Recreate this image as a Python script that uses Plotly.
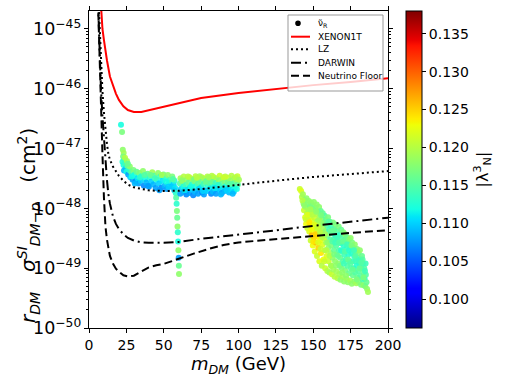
import plotly.graph_objects as go

# ---------------- exclusion / projection curves ----------------
xenon_m = [8, 9, 10, 11, 12, 14, 16, 18, 20, 23, 26, 30, 35, 40, 50, 60, 75, 100, 125, 150, 175, 200]
xenon_s = [2.5e-45, 1.0e-45, 6.5e-46, 4.3e-46, 3.0e-46, 1.6e-46, 1.1e-46, 8.3e-47, 6.5e-47, 5.1e-47,
           4.4e-47, 4.1e-47, 4.1e-47, 4.4e-47, 5.0e-47, 5.8e-47, 7.0e-47, 8.5e-47, 1.0e-46, 1.15e-46,
           1.3e-46, 1.5e-46]

lz_m = [6, 7, 8, 9, 10, 11, 12, 13, 14, 16, 18, 20, 23, 26, 30, 35, 40, 50, 60, 75, 100, 125, 150, 175, 200]
lz_s = [5e-45, 1e-45, 2.5e-46, 9e-47, 4e-47, 2e-47, 1.2e-47, 8e-48, 6.5e-48, 5e-48, 4.2e-48, 3.5e-48,
        2.9e-48, 2.5e-48, 2.25e-48, 2.1e-48, 2.0e-48, 1.95e-48, 1.97e-48, 2.1e-48, 2.5e-48, 2.9e-48,
        3.35e-48, 3.8e-48, 4.2e-48]

darwin_m = [6, 7, 8, 9, 10, 11, 12, 13, 14, 16, 18, 20, 23, 26, 30, 35, 40, 50, 60, 75, 100, 125, 150, 175, 200]
darwin_s = [3e-45, 4e-46, 1e-46, 3.5e-47, 1.4e-47, 6e-48, 3e-48, 1.7e-48, 1.2e-48, 7.4e-49, 5.5e-49,
            4.5e-49, 3.7e-49, 3.2e-49, 2.9e-49, 2.7e-49, 2.65e-49, 2.65e-49, 2.75e-49, 3.1e-49, 3.7e-49,
            4.3e-49, 5.1e-49, 6.0e-49, 7.0e-49]

nu_m = [6, 7, 8, 9, 10, 11, 12, 14, 16, 18, 20, 23, 26, 30, 35, 40, 45, 50, 55, 60, 70, 80, 90, 100,
        125, 150, 175, 200]
nu_s = [3e-45, 3e-46, 5e-47, 8e-48, 1.5e-48, 5e-49, 3e-49, 1.6e-49, 1.2e-49, 9.8e-50, 8.8e-50, 7.6e-50,
        7.3e-50, 7.5e-50, 8.8e-50, 1.03e-49, 1.12e-49, 1.18e-49, 1.3e-49, 1.45e-49, 1.75e-49, 2.1e-49,
        2.45e-49, 2.7e-49, 3.05e-49, 3.5e-49, 3.9e-49, 4.3e-49]

# ---------------- scan points: mass (GeV), r*sigma (units of 1e-48 cm^2), |lambda_N^3| ----------------
pts = [
    # low-mass band
    (21.4, 25, .112), (22.1, 19, .117), (22.6, 9.6, .118), (23.2, 8.4, .119), (22.8, 7.4, .117),
    (23.6, 6.6, .115), (22.4, 6.0, .113), (23.1, 5.3, .112), (24.2, 5.6, .114), (24.6, 4.7, .111),
    (23.4, 4.3, .109), (25.1, 4.1, .112), (25.7, 5.1, .116), (26.2, 3.7, .108), (26.8, 4.4, .113),
    (27.3, 5.0, .118), (27.6, 3.3, .110), (28.3, 4.0, .115), (29.2, 3.0, .108), (29.7, 4.4, .117),
    (30.3, 3.6, .112), (31.1, 2.8, .107), (31.8, 4.1, .116), (32.4, 3.2, .111), (33.2, 2.6, .108),
    (33.7, 3.9, .117), (34.6, 2.9, .110), (35.3, 3.5, .114), (36.1, 4.2, .118), (36.7, 2.4, .107),
    (37.8, 3.1, .112), (38.3, 2.7, .109), (39.2, 3.8, .116), (40.1, 2.3, .108), (40.7, 3.3, .113),
    (41.6, 2.8, .110), (42.3, 4.0, .119), (43.2, 2.5, .109), (43.8, 3.5, .115), (44.6, 2.2, .108),
    (45.3, 3.0, .112), (46.2, 3.9, .118), (46.8, 2.6, .110), (47.6, 3.4, .114), (48.3, 2.2, .107),
    (49.1, 2.9, .111), (49.8, 3.7, .117), (50.6, 2.4, .109), (51.3, 3.2, .113), (52.1, 2.1, .108),
    (52.7, 3.6, .118), (53.6, 2.7, .111), (54.2, 3.0, .114), (55.1, 2.3, .109), (55.7, 3.4, .117),
    (56.6, 2.5, .110), (57.2, 2.9, .113), (57.6, 2.2, .111),
    (24.1, 7.0, .120), (25.4, 6.2, .119), (26.0, 5.6, .116), (28.6, 3.4, .112), (30.6, 2.6, .109),
    (34.1, 3.3, .113), (37.2, 3.6, .115), (39.6, 2.4, .108), (41.2, 3.6, .116), (44.1, 3.2, .114),
    (47.1, 2.0, .108), (48.7, 3.6, .119), (51.6, 2.8, .112), (53.1, 2.3, .110), (56.2, 3.1, .115),
    (57.0, 2.0, .110),
    # resonance spike
    (58.0, 1.8, .113), (58.3, 1.5, .115), (58.6, 1.2, .113), (58.8, 0.9, .117), (59.0, 0.7, .116),
    (59.2, 0.5, .118), (59.4, 0.4, .113), (59.6, 0.28, .112), (59.8, 0.2, .118), (60.0, 0.15, .108),
    (60.1, 0.11, .116), (60.2, 0.08, .118),
    # band above the resonance
    (61.2, 3.2, .119), (60.8, 2.6, .115), (61.5, 2.1, .110), (61.1, 1.75, .108),
    (63.4, 3.4, .120), (62.7, 2.75, .117), (63.1, 2.3, .112), (63.6, 1.9, .109),
    (65.3, 3.0, .118), (64.8, 2.45, .114), (65.6, 2.0, .109), (65.1, 1.7, .107),
    (67.2, 3.3, .121), (66.7, 2.7, .116), (67.5, 2.2, .111), (66.9, 1.8, .108),
    (69.4, 3.1, .119), (68.8, 2.5, .113), (69.1, 2.05, .110), (69.7, 1.65, .107),
    (71.3, 3.45, .120), (70.6, 2.85, .117), (71.6, 2.35, .112), (70.9, 1.9, .109),
    (73.2, 3.0, .118), (72.7, 2.6, .115), (73.5, 2.1, .110), (72.9, 1.75, .108),
    (75.4, 3.3, .121), (74.8, 2.75, .116), (75.1, 2.25, .111), (75.7, 1.85, .107),
    (77.3, 3.15, .119), (76.6, 2.55, .114), (77.6, 2.0, .109), (76.9, 1.7, .108),
    (79.2, 3.4, .120), (78.7, 2.9, .117), (79.5, 2.4, .113), (78.9, 1.95, .110),
    (81.4, 3.05, .118), (80.8, 2.6, .115), (81.1, 2.15, .111), (81.7, 1.75, .107),
    (83.3, 3.35, .121), (82.6, 2.8, .116), (83.6, 2.3, .112), (82.9, 1.9, .109),
    (85.2, 3.2, .119), (84.7, 2.65, .114), (85.5, 2.1, .110), (84.9, 1.75, .108),
    (87.4, 3.5, .121), (86.8, 2.95, .118), (87.1, 2.4, .113), (87.7, 2.0, .110),
    (89.3, 3.1, .119), (88.6, 2.55, .115), (89.6, 2.15, .111), (88.9, 1.8, .108),
    (91.2, 3.4, .120), (90.7, 2.85, .117), (91.5, 2.35, .112), (90.9, 1.95, .109),
    (93.4, 3.25, .121), (92.8, 2.7, .116), (93.1, 2.2, .111), (93.7, 1.85, .109),
    (95.3, 3.5, .120), (94.6, 2.9, .118), (95.6, 2.45, .114), (94.9, 2.05, .111),
    (97.2, 3.15, .119), (96.7, 2.6, .115), (97.5, 2.2, .112), (96.9, 1.9, .110),
    (99.3, 3.45, .121), (98.8, 2.95, .118), (99.6, 2.5, .115), (98.9, 2.1, .112),
    (62.1, 2.95, .118), (66.2, 3.4, .120), (70.1, 3.0, .117), (74.1, 3.45, .119), (78.1, 2.8, .116),
    (82.2, 3.5, .120), (86.1, 2.45, .113), (90.1, 3.3, .121), (94.1, 2.55, .115), (98.1, 3.3, .120),
    (100.3, 3.0, .119), (64.1, 2.0, .111), (76.2, 1.95, .110), (88.2, 1.7, .109), (96.1, 1.75, .109),
    (68.1, 2.3, .112), (72.1, 3.25, .120), (80.1, 3.3, .119), (84.1, 2.2, .111), (92.1, 2.0, .110),
    # high-mass blob
    (141.0, 2.1, .121), (141.9, 1.95, .122), (142.4, 1.55, .120), (143.1, 1.72, .119), (143.5, 1.21, .118),
    (143.8, 0.93, .121), (144.2, 1.38, .117), (144.6, 0.71, .122), (144.9, 1.05, .119), (145.2, 0.55, .123),
    (145.5, 1.48, .118), (145.8, 0.83, .120), (146.0, 0.47, .121), (146.3, 1.17, .117), (146.6, 0.64, .124),
    (146.9, 0.93, .119), (147.1, 1.33, .118), (147.3, 0.41, .122), (147.6, 0.74, .121), (147.9, 1.08, .117),
    (148.1, 0.53, .125), (148.3, 0.29, .121), (148.5, 1.25, .118), (148.8, 0.86, .120), (149.0, 0.36, .126),
    (149.2, 0.62, .122), (149.5, 1.12, .117), (149.7, 0.24, .123), (149.9, 0.47, .124), (150.2, 0.95, .119),
    (150.4, 1.28, .118), (150.6, 0.33, .125), (150.8, 0.69, .121), (151.0, 0.19, .122),
    (151.3, 0.52, .123), (151.5, 1.02, .117), (151.7, 0.27, .126), (151.9, 0.81, .120), (152.1, 0.41, .122),
    (152.3, 1.16, .118), (152.5, 0.16, .121), (152.8, 0.61, .119), (153.0, 0.34, .124), (153.2, 0.89, .117),
    (153.4, 0.22, .125), (153.6, 0.48, .121), (153.9, 1.05, .118), (154.1, 0.13, .122), (154.3, 0.72, .119),
    (154.5, 0.29, .123), (154.8, 0.55, .120), (155.0, 0.9, .116), (155.2, 0.18, .124), (155.5, 0.39, .121),
    (155.7, 0.11, .120), (155.9, 0.66, .118),
    (156.2, 0.25, .122), (156.4, 0.83, .116), (156.6, 0.46, .119), (156.9, 0.14, .123), (157.1, 0.58, .117),
    (157.3, 0.31, .121), (157.6, 0.75, .115), (157.8, 0.2, .120), (158.0, 0.1, .121), (158.2, 0.42, .118),
    (158.5, 0.64, .116), (158.7, 0.27, .119), (158.9, 0.16, .122), (159.2, 0.52, .115), (159.4, 0.09, .120),
    (159.6, 0.35, .117), (159.9, 0.71, .117), (160.1, 0.22, .118), (160.3, 0.13, .121), (160.6, 0.44, .114),
    (160.8, 0.085, .119),
    (161.1, 0.6, .116), (161.3, 0.3, .115), (161.5, 0.18, .119), (161.8, 0.11, .120), (162.0, 0.5, .114),
    (162.2, 0.24, .117), (162.5, 0.079, .121), (162.7, 0.38, .114), (162.9, 0.15, .118), (163.2, 0.58, .117),
    (163.4, 0.095, .119), (163.6, 0.3, .115), (163.9, 0.2, .116), (164.1, 0.45, .114), (164.3, 0.072, .120),
    (164.6, 0.13, .118), (164.8, 0.35, .113), (165.0, 0.54, .117), (165.3, 0.24, .115), (165.5, 0.088, .119),
    (165.8, 0.17, .116),
    (166.0, 0.42, .115), (166.3, 0.068, .120), (166.5, 0.29, .114), (166.7, 0.12, .118), (167.0, 0.5, .117),
    (167.2, 0.2, .115), (167.5, 0.08, .119), (167.7, 0.36, .113), (168.0, 0.15, .116), (168.2, 0.064, .118),
    (168.4, 0.26, .114), (168.7, 0.44, .116), (168.9, 0.1, .117), (169.2, 0.19, .114), (169.4, 0.33, .115),
    (169.6, 0.072, .119), (169.9, 0.13, .115), (170.1, 0.4, .117), (170.3, 0.24, .113), (170.6, 0.06, .118),
    (170.8, 0.17, .114),
    (171.0, 0.3, .115), (171.3, 0.092, .117), (171.5, 0.37, .118), (171.8, 0.14, .114), (172.0, 0.21, .113),
    (172.3, 0.066, .119), (172.5, 0.33, .116), (172.7, 0.11, .115), (173.0, 0.26, .114), (173.2, 0.058, .118),
    (173.5, 0.17, .113), (173.8, 0.3, .117), (174.0, 0.082, .116), (174.2, 0.13, .114), (174.5, 0.22, .115),
    (174.7, 0.062, .119), (175.0, 0.32, .118), (175.2, 0.1, .115), (175.5, 0.18, .113), (175.8, 0.055, .118),
    (176.0, 0.27, .117), (176.3, 0.13, .114), (176.5, 0.076, .116), (176.8, 0.22, .115), (177.0, 0.1, .114),
    (177.3, 0.16, .113), (177.5, 0.06, .118), (177.8, 0.25, .118), (178.0, 0.085, .115), (178.3, 0.13, .114),
    (178.5, 0.19, .116), (178.8, 0.056, .119), (179.0, 0.11, .113), (179.3, 0.21, .117), (179.5, 0.07, .116),
    (179.8, 0.15, .114), (180.0, 0.09, .115), (180.3, 0.18, .117), (180.6, 0.058, .118), (180.9, 0.12, .113),
    (181.2, 0.2, .118), (181.4, 0.075, .115), (181.7, 0.14, .114), (182.0, 0.053, .117), (182.3, 0.1, .113),
    (182.6, 0.16, .116), (182.9, 0.065, .115), (183.2, 0.12, .114), (183.5, 0.085, .116), (183.8, 0.052, .118),
    (184.1, 0.1, .115), (184.4, 0.066, .113), (184.8, 0.05, .117), (185.2, 0.078, .115), (185.6, 0.058, .116),
    (186.0, 0.045, .118), (186.6, 0.04, .119), (185.0, 0.12, .114), (183.0, 0.14, .115),
    (142.8, 1.35, .120), (144.0, 1.12, .118), (145.0, 0.66, .121), (146.2, 0.78, .122), (147.4, 0.58, .124),
    (148.0, 0.97, .119), (148.9, 0.44, .123), (149.6, 0.78, .120), (150.0, 0.28, .124), (150.9, 0.54, .122),
    (151.6, 0.37, .125), (152.0, 0.88, .118), (152.6, 0.47, .121), (153.3, 0.27, .122), (153.7, 0.63, .119),
    (154.6, 0.4, .120), (154.9, 0.21, .121), (155.3, 0.77, .117), (156.0, 0.33, .120), (156.7, 0.56, .118),
    (157.4, 0.13, .121), (157.9, 0.37, .119), (158.6, 0.2, .120), (159.1, 0.58, .116), (159.7, 0.27, .118),
    (160.4, 0.6, .115), (160.9, 0.16, .120), (161.6, 0.41, .116), (162.1, 0.11, .119), (162.8, 0.28, .115),
    (163.5, 0.43, .116), (164.0, 0.17, .117), (164.7, 0.27, .114), (165.2, 0.11, .118), (165.9, 0.33, .114),
    (166.6, 0.16, .116), (167.3, 0.27, .115), (167.9, 0.11, .117), (168.6, 0.2, .113), (169.3, 0.085, .118),
    (170.0, 0.28, .116), (170.5, 0.12, .114), (171.2, 0.19, .115), (171.9, 0.075, .118), (172.6, 0.25, .114),
    (173.3, 0.14, .116), (174.0, 0.2, .113), (174.9, 0.12, .115), (175.6, 0.24, .117), (176.4, 0.095, .116),
    (177.2, 0.2, .114), (178.1, 0.16, .115), (179.1, 0.065, .117), (180.1, 0.135, .114), (181.0, 0.1, .116),
    (182.1, 0.125, .115), (183.6, 0.07, .117), (184.6, 0.09, .114),
]
scan_mass = [p[0] for p in pts]
scan_sigma = [p[1] * 1e-48 for p in pts]
scan_lambda = [p[2] for p in pts]

x_ticks = [0, 25, 50, 75, 100, 125, 150, 175, 200]
cb_ticks = [0.100, 0.105, 0.110, 0.115, 0.120, 0.125, 0.130, 0.135]
legend_labels = ["ν̃<sub>R</sub>", "XENON1T", "LZ", "DARWIN", "Neutrino Floor"]

# matplotlib "jet"
jet = [[0.0, "rgb(0,0,128)"], [0.11, "rgb(0,0,255)"], [0.125, "rgb(0,0,255)"],
       [0.34, "rgb(0,219,255)"], [0.35, "rgb(0,229,247)"], [0.375, "rgb(21,255,226)"],
       [0.64, "rgb(239,255,8)"], [0.65, "rgb(247,245,0)"], [0.66, "rgb(255,236,0)"],
       [0.89, "rgb(255,19,0)"], [0.91, "rgb(232,0,0)"], [1.0, "rgb(128,0,0)"]]

FONT = "DejaVu Sans"
fig = go.Figure()

fig.add_trace(go.Scatter(
    x=scan_mass, y=scan_sigma, mode="markers", showlegend=False, name=legend_labels[0],
    marker=dict(size=6, color=scan_lambda, colorscale=jet, cmin=0.0962, cmax=0.138,
                opacity=0.9, line=dict(width=0),
                colorbar=dict(x=1.06, xanchor="left", y=0.5, yanchor="middle", len=1.0,
                              lenmode="fraction", thickness=16, xpad=0, ypad=0,
                              outlinewidth=1, outlinecolor="black",
                              ticks="outside", ticklen=4, tickcolor="black",
                              tickvals=cb_ticks, ticktext=[f"{v:.3f}" for v in cb_ticks],
                              tickfont=dict(family=FONT, size=14, color="black"),
                              title=dict(text="|λ<sup>3</sup><sub>N</sub>|", side="right",
                                         font=dict(family=FONT, size=16, color="black"))))))

line_styles = [dict(color="red", width=2),
               dict(color="black", width=2, dash="2px,3px"),
               dict(color="black", width=2, dash="10px,4px,2px,4px"),
               dict(color="black", width=2, dash="8px,4px")]
for (mx, sy), name, ls in zip([(xenon_m, xenon_s), (lz_m, lz_s), (darwin_m, darwin_s), (nu_m, nu_s)],
                              legend_labels[1:], line_styles):
    fig.add_trace(go.Scatter(x=mx, y=sy, mode="lines", name=name, line=ls, showlegend=False))

# ---------------- hand-drawn legend box (paper coordinates) ----------------
def px_x(p):
    return (p - 89) / 299.0

def px_y(p):
    return (328 - p) / 317.0

shapes = [dict(type="rect", xref="paper", yref="paper", x0=px_x(288), x1=px_x(383),
               y0=px_y(91), y1=px_y(15), line=dict(color="#999", width=1),
               fillcolor="rgba(255,255,255,0.8)", layer="above")]
annotations = []
row_y = [23.3, 36.7, 49.3, 62.7, 75.7]
shapes.append(dict(type="circle", xref="paper", yref="paper", xsizemode="pixel", ysizemode="pixel",
                   xanchor=px_x(298), yanchor=px_y(row_y[0]), x0=-2.8, x1=2.8, y0=-2.8, y1=2.8,
                   fillcolor="black", line=dict(width=0), layer="above"))
for ry, ls in zip(row_y[1:], line_styles):
    shapes.append(dict(type="line", xref="paper", yref="paper", x0=px_x(291), x1=px_x(310),
                       y0=px_y(ry), y1=px_y(ry), line=ls, layer="above"))
for ry, lab in zip(row_y, legend_labels):
    annotations.append(dict(xref="paper", yref="paper", x=px_x(316), y=px_y(ry), text=lab,
                            showarrow=False, xanchor="left", yanchor="middle",
                            font=dict(family=FONT, size=9, color="black")))

# y-axis title as rotated annotation
annotations.append(dict(xref="paper", yref="paper", x=px_x(28), y=px_y(226), textangle=-90,
                        showarrow=False, xanchor="center", yanchor="middle",
                        text="<i>r</i><sub><i>DM</i></sub>\u2002\u2002<i>σ</i><sup><i>SI</i></sup><sub><i>DM−p</i></sub>\u2002\u2002(cm<sup>2</sup>)",
                        font=dict(family=FONT, size=20, color="black")))

fig.update_layout(
    width=509, height=382,
    margin=dict(l=89, r=121, t=11, b=54, autoexpand=False),
    paper_bgcolor="white", plot_bgcolor="white",
    font=dict(family=FONT, size=14, color="black"),
    showlegend=False, shapes=shapes, annotations=annotations,
)
fig.update_xaxes(range=[0, 200], tickvals=x_ticks, showgrid=False, zeroline=False,
                 showline=True, linecolor="black", linewidth=1, mirror="ticks",
                 ticks="outside", ticklen=4, tickcolor="black", automargin=False,
                 tickfont=dict(family=FONT, size=14),
                 title=dict(text="<i>m<sub>DM</sub></i> (GeV)", standoff=4,
                            font=dict(family=FONT, size=18)))
fig.update_yaxes(type="log", range=[-50, -44.7], dtick=1, exponentformat="power",
                 showgrid=False, zeroline=False, automargin=False,
                 showline=True, linecolor="black", linewidth=1, mirror="ticks",
                 ticks="outside", ticklen=4, tickcolor="black",
                 minor=dict(ticks="outside", ticklen=2, tickcolor="black", dtick="D1", showgrid=False),
                 tickfont=dict(family=FONT, size=14))

fig.write_html("out.html", config={"displayModeBar": False},
               post_script="document.body.style.margin='0px';")
